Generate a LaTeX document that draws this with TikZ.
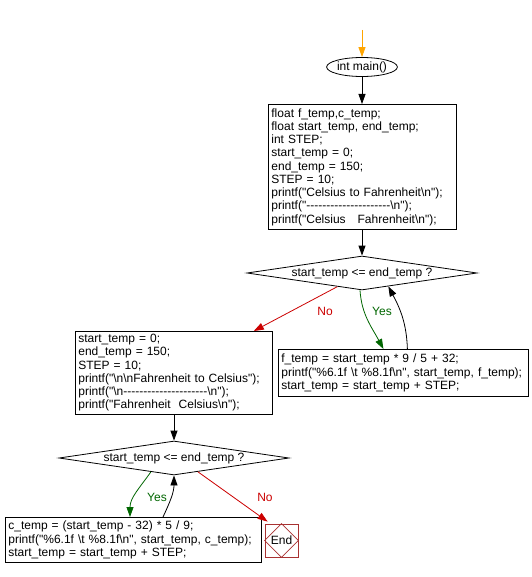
\documentclass[tikz,border=0pt]{standalone}
\usepackage{fontspec}
\setmainfont{Liberation Sans}[Ligatures=TeXOff]
\usetikzlibrary{shapes.geometric,arrows.meta,calc}
\definecolor{arrorange}{HTML}{FFA500}
\definecolor{yesgreen}{HTML}{006600}
\definecolor{nored}{HTML}{CC0000}
\definecolor{endred}{HTML}{A83232}
\begin{document}
\begin{tikzpicture}[x=1pt,y=1pt,
  every node/.style={font=\fontsize{12}{13.25}\selectfont},
  codebox/.style={draw=black,line width=0.8pt,rectangle,anchor=north west,inner xsep=3pt,inner ysep=0pt,align=left},
  decision/.style={draw=black,line width=0.8pt,diamond,aspect=6.76,inner sep=0pt,minimum width=230pt,minimum height=34pt},
  flow/.style={line width=0.8pt,-{Triangle[length=10pt,width=7pt]}},
  yesflow/.style={flow,draw=yesgreen,color=yesgreen},
  noflow/.style={flow,draw=nored,color=nored},
  yeslabel/.style={text=yesgreen},
  nolabel/.style={text=nored}
]
\useasboundingbox (0,0) rectangle (531,-577);
\fill[white] (0,0) rectangle (531,-577);

\coordinate (start) at (362,-30);
\node[draw=black,line width=0.8pt,ellipse,inner sep=0pt,minimum width=68pt,minimum height=19pt] (main) at (362,-67) {int main()};

\node[codebox,minimum width=188pt,minimum height=125pt,text width=182pt] (b1) at (268,-104) {float f\_temp,c\_temp;\\
float start\_temp, end\_temp;\\
int STEP;\\
start\_temp = 0;\\
end\_temp = 150;\\
STEP = 10;\\
printf("Celsius to Fahrenheit\textbackslash n");\\
printf("---------------------\textbackslash n");\\
printf("Celsius\ \ \ Fahrenheit\textbackslash n");};

\node[decision] (d1) at (362,-273) {start\_temp <= end\_temp ?};

\node[codebox,minimum width=250pt,minimum height=47pt,text width=244pt] (b2) at (278,-349) {f\_temp = start\_temp * 9 / 5 + 32;\\
printf("\%6.1f \textbackslash t \%8.1f\textbackslash n", start\_temp, f\_temp);\\
start\_temp = start\_temp + STEP;};

\node[codebox,minimum width=197pt,minimum height=83pt,text width=191pt] (b3) at (75,-331) {start\_temp = 0;\\
end\_temp = 150;\\
STEP = 10;\\
printf("\textbackslash n\textbackslash nFahrenheit to Celsius");\\
printf("\textbackslash n---------------------\textbackslash n");\\
printf("Fahrenheit\ \ Celsius\textbackslash n");};

\node[decision] (d2) at (174,-458) {start\_temp <= end\_temp ?};

\node[codebox,minimum width=256pt,minimum height=45pt,text width=250pt] (b4) at (5,-517) {c\_temp = (start\_temp - 32) * 5 / 9;\\
printf("\%6.1f \textbackslash t \%8.1f\textbackslash n", start\_temp, c\_temp);\\
start\_temp = start\_temp + STEP;};

\node[draw=endred,line width=0.8pt,rectangle,minimum width=33pt,minimum height=33pt,inner sep=0pt] (end) at (281.5,-540.5) {};
\draw[endred,line width=0.8pt] (end.north) -- (end.east) -- (end.south) -- (end.west) -- cycle;
\node at (end.center) {End};

% connectors
\draw[flow,draw=arrorange,color=arrorange] (start) -- (main.north);
\draw[flow] (main.south) -- (b1.north -| main.south);
\draw[flow] (b1.south -| d1.north) -- (d1.north);
\draw[yesflow] ($(d1.south)+(-2,0)$) to[out=-86,in=118] ($(b2.north)+(-20,0)$);
\draw[flow] ($(b2.north)+(4,0)$) to[out=92,in=-62] (d1.-27);
\draw[noflow] (d1.209) -- ($(b3.north east)+(-19,0)$);
\node[yeslabel] at (382,-311) {Yes};
\node[nolabel] at (325,-311) {No};

\draw[flow] (b3.south -| d2.north) -- (d2.north);
\draw[yesflow] (d2.211) to[out=-125,in=90] ($(b4.north west)+(125,0)$);
\draw[flow] ($(b4.north west)+(158,0)$) to[out=65,in=-90] (d2.south);
\draw[noflow] (d2.-30) -- ($(end.north west)+(3,2)$);
\node[yeslabel] at (157,-497) {Yes};
\node[nolabel] at (265,-497) {No};
\end{tikzpicture}
\end{document}
